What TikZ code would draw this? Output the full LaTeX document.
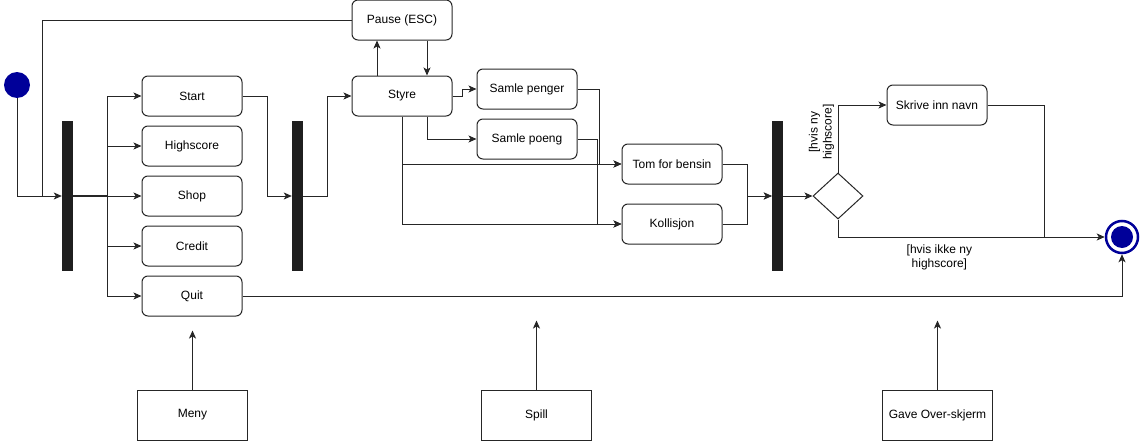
\documentclass[tikz,border=0pt]{standalone}
\usepackage{fontspec}
\setmainfont{Liberation Sans}
\usetikzlibrary{arrows.meta,positioning,shapes.geometric}
\tikzset{
    state/.style ={
        shape=rectangle,
        rounded corners=6pt,
        draw=black!85,
        line width=1pt,
        minimum width=100pt,
        minimum height=40pt,
        font=\fontsize{12}{14}\selectfont
    },
    note/.style ={
        shape=rectangle,
        draw=black!85,
        line width=1pt,
        minimum width=110pt,
        minimum height=50pt,
        font=\fontsize{12}{14}\selectfont
    },
    bar/.style ={
        shape=rectangle,
        fill=black!88,
        minimum width=11pt,
        minimum height=150pt,
        inner sep=0pt
    },
    choice/.style ={
        shape=diamond,
        draw=black!85,
        line width=1pt,
        minimum width=50pt,
        minimum height=46pt,
        inner sep=0pt
    },
    flow/.style ={
        draw=black!85,
        line width=1pt,
        -{Stealth[length=8pt,width=7pt,inset=2pt]}
    },
    line/.style ={
        draw=black!85,
        line width=1pt
    },
    guard/.style ={
        align=center,
        font=\fontsize{12}{14}\selectfont
    }
}

\begin{document}
\begin{tikzpicture}[x=1pt,y=-1pt]
    \useasboundingbox (0,0) rectangle (1144,442);
    % start og slutt
    \node[circle,fill=blue!60!black,minimum size=26pt,inner sep=0pt] (init) at(17,85) {};
    \node[circle,draw=blue!60!black,line width=2.5pt,minimum size=32pt,inner sep=0pt] (final) at(1122,237) {};
    \fill[blue!60!black] (final.center) circle (11pt);
    % meny
    \node[bar] (bar1) at(67.5,196) {};
    \node[state] (start) at(192,96) {Start};
    \node[state] (highscore) at(192,146) {Highscore};
    \node[state] (shop) at(192,196) {Shop};
    \node[state] (credit) at(192,246) {Credit};
    \node[state] (quit) at(192,296) {Quit};
    % spill
    \node[bar] (bar2) at(297.5,196) {};
    \node[state] (pause) at(402,20) {Pause (ESC)};
    \node[state] (styre) at(402,96) {Styre};
    \node[state] (penger) at(527,89) {Samle penger};
    \node[state] (poeng) at(527,139) {Samle poeng};
    \node[state] (bensin) at(672,164) {Tom for bensin};
    \node[state] (kollisjon) at(672,224) {Kollisjon};
    % game over
    \node[bar] (bar3) at(777.5,196) {};
    \node[choice] (valg) at(838,196) {};
    \node[state] (navn) at(937,105) {Skrive inn navn};
    % merknader
    \node[note] (meny) at(192.5,415) {Meny};
    \node[note] (spill) at(536.5,415) {Spill};
    \node[note] (gave) at(937.5,415) {Gave Over-skjerm};

    \coordinate (j1) at(42,196);
    \coordinate (f1) at(107,196);
    \coordinate (j2) at(1044,237);

    \draw[flow] (init.south) |- (bar1.west);
    \draw[line] (pause.west) -| (j1);
    \draw[line,line width=1.5pt] (bar1.east) -- (f1);
    \foreach \b in {start,highscore,shop,credit,quit}
        \draw[flow] (f1) |- (\b.west);
    \draw[flow] (start.east) -- ++(25,0) |- (bar2.west);
    \draw[flow] (bar2.east) -- ++(24,0) |- (styre.west);
    \draw[flow] ([xshift=-25pt]styre.north) -- ([xshift=-25pt]pause.south);
    \draw[flow] ([xshift=25pt]pause.south) -- ([xshift=25pt]styre.north);
    \draw[flow] (styre.east) -- ++(10,0) |- (penger.west);
    \draw[flow] ([xshift=25pt]styre.south) |- (poeng.west);
    \draw[flow] (styre.south) |- (bensin.west);
    \draw[flow] (styre.south) |- (kollisjon.west);
    \draw[flow] (penger.east) -- ++(22,0) |- (bensin.west);
    \draw[flow] (poeng.east) -- ++(20,0) |- (kollisjon.west);
    \draw[flow] (bensin.east) -- ++(25,0) |- (bar3.west);
    \draw[flow] (kollisjon.east) -- ++(25,0) |- (bar3.west);
    \draw[flow] (bar3.east) -- (valg.west);
    \draw[flow] (valg.north) |- (navn.west)
        node[guard,rotate=90,pos=0.3,above] {[hvis ny\\highscore]};
    \draw[flow] (valg.south) |- (final.west)
        node[guard,pos=0.69,below=4pt] {[hvis ikke ny\\highscore]};
    \draw[line] (navn.east) -| (j2);
    \draw[flow] (quit.east) -| (final.south);
    \draw[flow] (meny.north) -- ++(0,-59);
    \draw[flow] (spill.north) -- ++(0,-69);
    \draw[flow] (gave.north) -- ++(0,-69);
\end{tikzpicture}
\end{document}
